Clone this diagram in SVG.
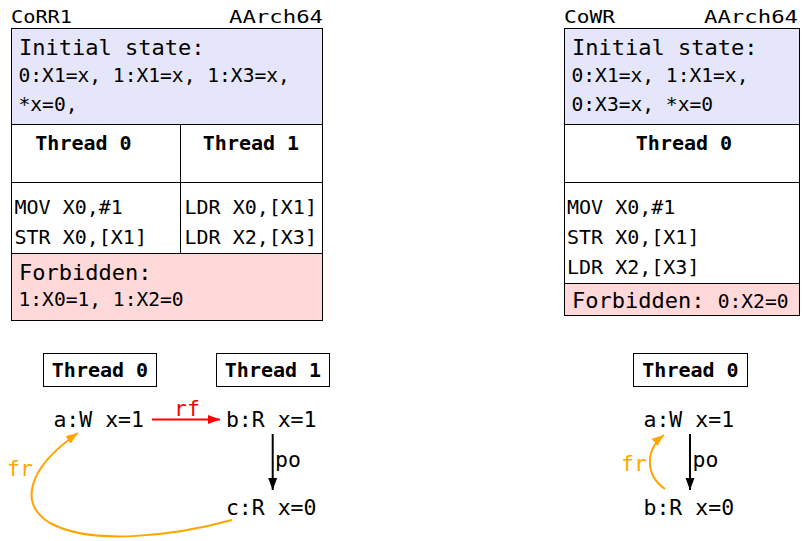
<svg xmlns="http://www.w3.org/2000/svg" width="802" height="541" viewBox="0 0 802 541">
<style>
text{font-family:"DejaVu Sans Mono","Liberation Mono",monospace;fill:#000}
.ttl{font-size:18px}
.big{font-size:22px}
.val{font-size:19.6px}
.code{font-size:20px}
.hdr{font-size:20px;font-weight:bold}
.ev{font-size:21.5px}
.box{fill:none;stroke:#000;stroke-width:1}
.init{fill:#e6e6fa}
.forb{fill:#ffd9d9}
.edge{fill:none;stroke-width:2}
</style>
<defs>
<marker id="ah-red" markerUnits="userSpaceOnUse" markerWidth="12" markerHeight="10" refX="12" refY="4.5" orient="auto"><path d="M0,0 L12,4.5 L0,9 z" fill="#ff0000"/></marker>
<marker id="ah-black" markerUnits="userSpaceOnUse" markerWidth="12" markerHeight="10" refX="12" refY="4.5" orient="auto"><path d="M0,0 L12,4.5 L0,9 z" fill="#000"/></marker>
<marker id="ah-orange" markerUnits="userSpaceOnUse" markerWidth="12" markerHeight="10" refX="12" refY="4.5" orient="auto"><path d="M0,0 L12,4.5 L0,9 z" fill="#ffa500"/></marker>
</defs>

<g id="table-corr1">
<text class="ttl" x="11" y="22.5" textLength="61" lengthAdjust="spacingAndGlyphs">CoRR1</text>
<text class="ttl" x="229" y="22.5" textLength="94" lengthAdjust="spacingAndGlyphs">AArch64</text>
<rect class="init" x="11.5" y="28.5" width="311" height="96"/>
<rect class="forb" x="11.5" y="253.5" width="311" height="67"/>
<rect class="box" x="11.5" y="28.5" width="311" height="292"/>
<path class="box" d="M11.5,124.5H322.5M11.5,182.5H322.5M11.5,253.5H322.5M180.5,124.5V253.5"/>
<text class="big" x="19" y="54.5">Initial state:</text>
<text class="val" x="18.5" y="82">0:X1=x, 1:X1=x, 1:X3=x,</text>
<text class="val" x="18.5" y="111">*x=0,</text>
<text class="hdr" x="83.5" y="150" text-anchor="middle">Thread 0</text>
<text class="hdr" x="251" y="150" text-anchor="middle">Thread 1</text>
<text class="code" x="14.5" y="214">MOV X0,#1</text>
<text class="code" x="14.5" y="244">STR X0,[X1]</text>
<text class="code" x="184.5" y="214">LDR X0,[X1]</text>
<text class="code" x="184.5" y="244">LDR X2,[X3]</text>
<text class="big" x="19" y="279.5">Forbidden:</text>
<text class="val" x="18.5" y="306">1:X0=1, 1:X2=0</text>
</g>

<g id="table-cowr">
<text class="ttl" x="564" y="22.5" textLength="51" lengthAdjust="spacingAndGlyphs">CoWR</text>
<text class="ttl" x="704" y="22.5" textLength="94" lengthAdjust="spacingAndGlyphs">AArch64</text>
<rect class="init" x="564.5" y="28.5" width="235" height="96"/>
<rect class="forb" x="564.5" y="283.5" width="235" height="32"/>
<rect class="box" x="564.5" y="28.5" width="235" height="287"/>
<path class="box" d="M564.5,124.5H799.5M564.5,182.5H799.5M564.5,283.5H799.5"/>
<text class="big" x="572" y="54.5">Initial state:</text>
<text class="val" x="571.5" y="82">0:X1=x, 1:X1=x,</text>
<text class="val" x="571.5" y="111">0:X3=x, *x=0</text>
<text class="hdr" x="684" y="150" text-anchor="middle">Thread 0</text>
<text class="code" x="567" y="214">MOV X0,#1</text>
<text class="code" x="567" y="244">STR X0,[X1]</text>
<text class="code" x="567" y="273.5">LDR X2,[X3]</text>
<text class="big" x="572" y="308">Forbidden: <tspan class="val">0:X2=0</tspan></text>
</g>

<g id="g1-thread0"><rect class="box" x="43.5" y="353.5" width="113" height="33"/><text class="hdr" x="100" y="377" text-anchor="middle">Thread 0</text></g>
<g id="g1-thread1"><rect class="box" x="216.5" y="353.5" width="113" height="33"/><text class="hdr" x="273" y="377" text-anchor="middle">Thread 1</text></g>
<g id="g1-a"><text class="ev" x="98.7" y="427" text-anchor="middle">a:W x=1</text></g>
<g id="g1-b"><text class="ev" x="271.2" y="427" text-anchor="middle">b:R x=1</text></g>
<g id="g1-c"><text class="ev" x="271.2" y="515" text-anchor="middle">c:R x=0</text></g>

<g id="g2-thread0"><rect class="box" x="633.5" y="353.5" width="114" height="33"/><text class="hdr" x="690.5" y="377" text-anchor="middle">Thread 0</text></g>
<g id="g2-a"><text class="ev" x="688.8" y="427" text-anchor="middle">a:W x=1</text></g>
<g id="g2-b"><text class="ev" x="688.8" y="514.5" text-anchor="middle">b:R x=0</text></g>

<g id="connectors">
<path class="edge" stroke="#ff0000" d="M152,419.5H220" marker-end="url(#ah-red)"/>
<text class="ev" x="187" y="416" text-anchor="middle" style="fill:#ff0000">rf</text>
<path class="edge" stroke="#000" d="M272.7,434V490" marker-end="url(#ah-black)"/>
<text class="ev" x="275" y="466.5">po</text>
<path class="edge" stroke="#ffa500" d="M232,520 C170,537 90,545 50,523 C20,505 25,470 78,433" marker-end="url(#ah-orange)"/>
<text class="ev" x="7" y="476" style="fill:#ffa500">fr</text>
<path class="edge" stroke="#000" d="M690,434V490" marker-end="url(#ah-black)"/>
<text class="ev" x="692.5" y="466.5">po</text>
<path class="edge" stroke="#ffa500" d="M665,489 C645,475 645,450 664,435" marker-end="url(#ah-orange)"/>
<text class="ev" x="621" y="471" style="fill:#ffa500">fr</text>
</g>
</svg>
